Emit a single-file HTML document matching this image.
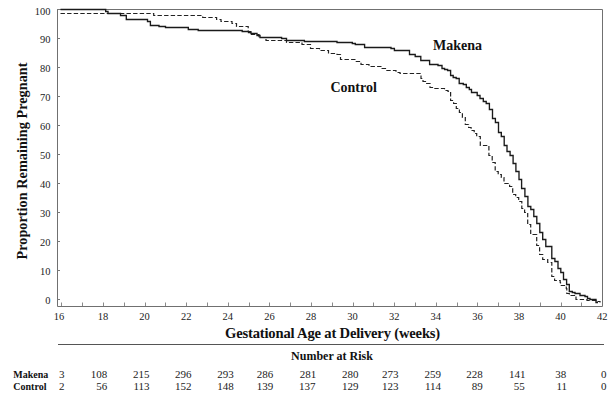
<!DOCTYPE html><html><head><meta charset="utf-8"><style>html,body{margin:0;padding:0;background:#fff;width:613px;height:395px;overflow:hidden}svg{display:block}text{font-family:"Liberation Serif",serif}</style></head><body>
<svg width="613" height="395" viewBox="0 0 613 395">
<path d="M57.5 9 V306.5 H602.5 V9.5 H57" fill="none" stroke="#707070" stroke-width="1"/>
<line x1="57" y1="299.5" x2="60" y2="299.5" stroke="#777" stroke-width="1"/>
<text x="50.5" y="304.1" transform="translate(0,304.1) scale(1,1.08) translate(0,-304.1)" font-size="10.5" text-anchor="end" fill="#222">0</text>
<line x1="57" y1="270.5" x2="60" y2="270.5" stroke="#777" stroke-width="1"/>
<text x="50.5" y="275.2" transform="translate(0,275.2) scale(1,1.08) translate(0,-275.2)" font-size="10.5" text-anchor="end" fill="#222">10</text>
<line x1="57" y1="241.5" x2="60" y2="241.5" stroke="#777" stroke-width="1"/>
<text x="50.5" y="246.2" transform="translate(0,246.2) scale(1,1.08) translate(0,-246.2)" font-size="10.5" text-anchor="end" fill="#222">20</text>
<line x1="57" y1="212.5" x2="60" y2="212.5" stroke="#777" stroke-width="1"/>
<text x="50.5" y="217.3" transform="translate(0,217.3) scale(1,1.08) translate(0,-217.3)" font-size="10.5" text-anchor="end" fill="#222">30</text>
<line x1="57" y1="183.5" x2="60" y2="183.5" stroke="#777" stroke-width="1"/>
<text x="50.5" y="188.3" transform="translate(0,188.3) scale(1,1.08) translate(0,-188.3)" font-size="10.5" text-anchor="end" fill="#222">40</text>
<line x1="57" y1="154.5" x2="60" y2="154.5" stroke="#777" stroke-width="1"/>
<text x="50.5" y="159.4" transform="translate(0,159.4) scale(1,1.08) translate(0,-159.4)" font-size="10.5" text-anchor="end" fill="#222">50</text>
<line x1="57" y1="125.5" x2="60" y2="125.5" stroke="#777" stroke-width="1"/>
<text x="50.5" y="130.4" transform="translate(0,130.4) scale(1,1.08) translate(0,-130.4)" font-size="10.5" text-anchor="end" fill="#222">60</text>
<line x1="57" y1="96.5" x2="60" y2="96.5" stroke="#777" stroke-width="1"/>
<text x="50.5" y="101.5" transform="translate(0,101.5) scale(1,1.08) translate(0,-101.5)" font-size="10.5" text-anchor="end" fill="#222">70</text>
<line x1="57" y1="67.5" x2="60" y2="67.5" stroke="#777" stroke-width="1"/>
<text x="50.5" y="72.5" transform="translate(0,72.5) scale(1,1.08) translate(0,-72.5)" font-size="10.5" text-anchor="end" fill="#222">80</text>
<line x1="57" y1="38.5" x2="60" y2="38.5" stroke="#777" stroke-width="1"/>
<text x="50.5" y="43.5" transform="translate(0,43.5) scale(1,1.08) translate(0,-43.5)" font-size="10.5" text-anchor="end" fill="#222">90</text>
<line x1="57" y1="9.5" x2="60" y2="9.5" stroke="#777" stroke-width="1"/>
<text x="50.5" y="14.6" transform="translate(0,14.6) scale(1,1.08) translate(0,-14.6)" font-size="10.5" text-anchor="end" fill="#222">100</text>
<line x1="61.5" y1="302.5" x2="61.5" y2="306" stroke="#8a8a8a" stroke-width="1"/>
<line x1="82.5" y1="302.5" x2="82.5" y2="306" stroke="#8a8a8a" stroke-width="1"/>
<line x1="103.5" y1="302.5" x2="103.5" y2="306" stroke="#8a8a8a" stroke-width="1"/>
<line x1="124.5" y1="302.5" x2="124.5" y2="306" stroke="#8a8a8a" stroke-width="1"/>
<line x1="145.5" y1="302.5" x2="145.5" y2="306" stroke="#8a8a8a" stroke-width="1"/>
<line x1="165.5" y1="302.5" x2="165.5" y2="306" stroke="#8a8a8a" stroke-width="1"/>
<line x1="186.5" y1="302.5" x2="186.5" y2="306" stroke="#8a8a8a" stroke-width="1"/>
<line x1="207.5" y1="302.5" x2="207.5" y2="306" stroke="#8a8a8a" stroke-width="1"/>
<line x1="228.5" y1="302.5" x2="228.5" y2="306" stroke="#8a8a8a" stroke-width="1"/>
<line x1="249.5" y1="302.5" x2="249.5" y2="306" stroke="#8a8a8a" stroke-width="1"/>
<line x1="269.5" y1="302.5" x2="269.5" y2="306" stroke="#8a8a8a" stroke-width="1"/>
<line x1="290.5" y1="302.5" x2="290.5" y2="306" stroke="#8a8a8a" stroke-width="1"/>
<line x1="311.5" y1="302.5" x2="311.5" y2="306" stroke="#8a8a8a" stroke-width="1"/>
<line x1="332.5" y1="302.5" x2="332.5" y2="306" stroke="#8a8a8a" stroke-width="1"/>
<line x1="353.5" y1="302.5" x2="353.5" y2="306" stroke="#8a8a8a" stroke-width="1"/>
<line x1="373.5" y1="302.5" x2="373.5" y2="306" stroke="#8a8a8a" stroke-width="1"/>
<line x1="394.5" y1="302.5" x2="394.5" y2="306" stroke="#8a8a8a" stroke-width="1"/>
<line x1="415.5" y1="302.5" x2="415.5" y2="306" stroke="#8a8a8a" stroke-width="1"/>
<line x1="436.5" y1="302.5" x2="436.5" y2="306" stroke="#8a8a8a" stroke-width="1"/>
<line x1="457.5" y1="302.5" x2="457.5" y2="306" stroke="#8a8a8a" stroke-width="1"/>
<line x1="477.5" y1="302.5" x2="477.5" y2="306" stroke="#8a8a8a" stroke-width="1"/>
<line x1="498.5" y1="302.5" x2="498.5" y2="306" stroke="#8a8a8a" stroke-width="1"/>
<line x1="519.5" y1="302.5" x2="519.5" y2="306" stroke="#8a8a8a" stroke-width="1"/>
<line x1="540.5" y1="302.5" x2="540.5" y2="306" stroke="#8a8a8a" stroke-width="1"/>
<line x1="561.5" y1="302.5" x2="561.5" y2="306" stroke="#8a8a8a" stroke-width="1"/>
<line x1="581.5" y1="302.5" x2="581.5" y2="306" stroke="#8a8a8a" stroke-width="1"/>
<text x="59.0" y="320.5" transform="translate(0,320.5) scale(1,1.08) translate(0,-320.5)" font-size="10.5" text-anchor="middle" fill="#222">16</text>
<text x="103.0" y="320.5" transform="translate(0,320.5) scale(1,1.08) translate(0,-320.5)" font-size="10.5" text-anchor="middle" fill="#222">18</text>
<text x="144.6" y="320.5" transform="translate(0,320.5) scale(1,1.08) translate(0,-320.5)" font-size="10.5" text-anchor="middle" fill="#222">20</text>
<text x="186.2" y="320.5" transform="translate(0,320.5) scale(1,1.08) translate(0,-320.5)" font-size="10.5" text-anchor="middle" fill="#222">22</text>
<text x="227.8" y="320.5" transform="translate(0,320.5) scale(1,1.08) translate(0,-320.5)" font-size="10.5" text-anchor="middle" fill="#222">24</text>
<text x="269.4" y="320.5" transform="translate(0,320.5) scale(1,1.08) translate(0,-320.5)" font-size="10.5" text-anchor="middle" fill="#222">26</text>
<text x="311.0" y="320.5" transform="translate(0,320.5) scale(1,1.08) translate(0,-320.5)" font-size="10.5" text-anchor="middle" fill="#222">28</text>
<text x="352.6" y="320.5" transform="translate(0,320.5) scale(1,1.08) translate(0,-320.5)" font-size="10.5" text-anchor="middle" fill="#222">30</text>
<text x="394.2" y="320.5" transform="translate(0,320.5) scale(1,1.08) translate(0,-320.5)" font-size="10.5" text-anchor="middle" fill="#222">32</text>
<text x="435.8" y="320.5" transform="translate(0,320.5) scale(1,1.08) translate(0,-320.5)" font-size="10.5" text-anchor="middle" fill="#222">34</text>
<text x="477.4" y="320.5" transform="translate(0,320.5) scale(1,1.08) translate(0,-320.5)" font-size="10.5" text-anchor="middle" fill="#222">36</text>
<text x="519.0" y="320.5" transform="translate(0,320.5) scale(1,1.08) translate(0,-320.5)" font-size="10.5" text-anchor="middle" fill="#222">38</text>
<text x="560.6" y="320.5" transform="translate(0,320.5) scale(1,1.08) translate(0,-320.5)" font-size="10.5" text-anchor="middle" fill="#222">40</text>
<text x="602.2" y="320.5" transform="translate(0,320.5) scale(1,1.08) translate(0,-320.5)" font-size="10.5" text-anchor="middle" fill="#222">42</text>
<path d="M 60.5 13.5 H 153.7 V 15.5 H 202.7 V 17.5 H 216.6 V 19.5 H 221 V 21.5 H 232 V 23.5 H 236.5 V 26.5 H 248.2 V 31.5 H 251.5 V 34.5 H 259 V 37.5 H 266 V 40.5 H 286.5 V 42.5 H 302 V 44.5 H 310.5 V 48.5 H 319.5 V 50.5 H 328.5 V 53.5 H 337 V 54.5 H 340.5 V 59.5 H 355.5 V 61.5 H 361 V 64.5 H 369 V 66.5 H 382 V 68.5 H 385.5 V 70.5 H 396 V 72.5 H 400 V 73.5 H 421 V 78.5 H 423 V 81.5 H 425.5 V 83.5 H 430 V 87.5 H 434 V 88.5 H 444.5 V 90.5 H 448 V 91.5 H 450.6 V 100.5 H 453.6 V 103.5 H 456.3 V 108.5 H 459.4 V 112.5 H 462.4 V 117.5 H 465.3 V 124.5 H 468.6 V 127.5 H 471.1 V 130.5 H 474.2 V 133.5 H 476.7 V 136.5 H 480.3 V 145.5 H 488.9 V 155.5 H 492.2 V 162.5 H 495.2 V 171.5 H 498.2 V 174.5 H 501.3 V 177.5 H 504 V 183.5 H 509.6 V 186.5 H 512.7 V 194.5 H 515.7 V 197.5 H 518.7 V 201.5 H 521.8 V 208.5 H 524.6 V 212.5 H 527.7 V 224.5 H 530.7 V 234.5 H 536.7 V 245.5 H 539.6 V 254.5 H 542.7 V 259.5 H 547.7 V 262.5 H 551.8 V 276.5 H 554.6 V 280.5 H 560.2 V 282.5 H 560.5 V 285.5 H 566.3 V 288.5 H 566.8 V 293.5 H 569.3 V 295.5 H 574.5 V 296.5 H 576 V 299.5 H 587 V 300.5 H 596 V 301.5 H 600 V 302.5" fill="none" stroke="#222" stroke-width="1.2" stroke-dasharray="4.4 2.2"/>
<path d="M 60.5 9.5 H 105.7 V 11.5 H 108 V 13.5 H 120.5 V 15.5 H 126.3 V 19.5 H 147.5 V 21.5 H 150.4 V 25.5 H 159 V 26.5 H 165.5 V 27.5 H 188.3 V 29.5 H 198.2 V 30.5 H 242.2 V 31.5 H 248.5 V 32.5 H 251 V 33.5 H 257 V 35.5 H 260 V 37.5 H 268 V 37.5 H 281.6 V 38.5 H 286.5 V 40.5 H 304.4 V 41.5 H 337 V 42.5 H 352.3 V 43.5 H 355.3 V 44.5 H 364.6 V 47.5 H 391 V 48.5 H 394.4 V 50.5 H 409.5 V 54.5 H 415.2 V 56.5 H 420.8 V 60.5 H 429.6 V 64.5 H 438 V 65.5 H 442 V 68.5 H 444.6 V 69.5 H 447.6 V 70.5 H 450.6 V 75.5 H 453.2 V 77.5 H 456.2 V 78.5 H 459.2 V 83.5 H 463.3 V 84.5 H 466.3 V 87.5 H 469.3 V 89.5 H 471.5 V 92.5 H 477.2 V 95.5 H 480 V 98.5 H 483.3 V 101.5 H 486.2 V 103.5 H 489.4 V 109.5 H 492.5 V 118.5 H 495.4 V 122.5 H 498.5 V 132.5 H 501.3 V 136.5 H 504.2 V 145.5 H 507 V 151.5 H 510.1 V 155.5 H 513.1 V 163.5 H 515.9 V 171.5 H 519 V 179.5 H 521.6 V 188.5 H 524.9 V 196.5 H 527.9 V 206.5 H 530.8 V 209.5 H 533.8 V 216.5 H 536.8 V 223.5 H 539.8 V 232.5 H 542.7 V 239.5 H 545.8 V 246.5 H 551.8 V 258.5 H 554.9 V 261.5 H 558 V 268.5 H 560.8 V 272.5 H 563.5 V 279.5 H 566.6 V 284.5 H 569.3 V 291.5 H 572.3 V 292.5 H 575 V 293.5 H 580 V 295.5 H 585 V 296.5 H 587.5 V 298.5 H 590 V 299.5 H 596 V 302.5 H 598" fill="none" stroke="#1a1a1a" stroke-width="1.35"/>
<text x="433" y="50.4" font-size="14" font-weight="bold" fill="#111">Makena</text>
<text x="330.4" y="91.5" font-size="14" font-weight="bold" fill="#111">Control</text>
<text transform="translate(27,259.5) rotate(-90)" x="0" y="0" font-size="14.2" font-weight="bold" textLength="197" lengthAdjust="spacing" fill="#111">Proportion Remaining Pregnant</text>
<text x="225" y="338" font-size="14.6" font-weight="bold" textLength="215.2" lengthAdjust="spacing" fill="#111">Gestational Age at Delivery (weeks)</text>
<line x1="58" y1="344.5" x2="604" y2="344.5" stroke="#555" stroke-width="1.2"/>
<text x="332" y="360" font-size="12" font-weight="bold" text-anchor="middle" fill="#111">Number at Risk</text>
<text x="13.3" y="378" font-size="10" font-weight="bold" fill="#111">Makena</text>
<text x="13.3" y="390" font-size="10" font-weight="bold" fill="#111">Control</text>
<text x="64.6" y="378" font-size="11" text-anchor="end" fill="#222">3</text>
<text x="64.6" y="390" font-size="11" text-anchor="end" fill="#222">2</text>
<text x="107.3" y="378" font-size="11" text-anchor="end" fill="#222">108</text>
<text x="107.3" y="390" font-size="11" text-anchor="end" fill="#222">56</text>
<text x="149.6" y="378" font-size="11" text-anchor="end" fill="#222">215</text>
<text x="149.6" y="390" font-size="11" text-anchor="end" fill="#222">113</text>
<text x="191.4" y="378" font-size="11" text-anchor="end" fill="#222">296</text>
<text x="191.4" y="390" font-size="11" text-anchor="end" fill="#222">152</text>
<text x="233.8" y="378" font-size="11" text-anchor="end" fill="#222">293</text>
<text x="233.8" y="390" font-size="11" text-anchor="end" fill="#222">148</text>
<text x="273.2" y="378" font-size="11" text-anchor="end" fill="#222">286</text>
<text x="273.2" y="390" font-size="11" text-anchor="end" fill="#222">139</text>
<text x="316.3" y="378" font-size="11" text-anchor="end" fill="#222">281</text>
<text x="315.5" y="390" font-size="11" text-anchor="end" fill="#222">137</text>
<text x="358.5" y="378" font-size="11" text-anchor="end" fill="#222">280</text>
<text x="358.5" y="390" font-size="11" text-anchor="end" fill="#222">129</text>
<text x="398.4" y="378" font-size="11" text-anchor="end" fill="#222">273</text>
<text x="398.4" y="390" font-size="11" text-anchor="end" fill="#222">123</text>
<text x="441.0" y="378" font-size="11" text-anchor="end" fill="#222">259</text>
<text x="441.0" y="390" font-size="11" text-anchor="end" fill="#222">114</text>
<text x="482.7" y="378" font-size="11" text-anchor="end" fill="#222">228</text>
<text x="482.7" y="390" font-size="11" text-anchor="end" fill="#222">89</text>
<text x="525.5" y="378" font-size="11" text-anchor="end" fill="#222">141</text>
<text x="524.7" y="390" font-size="11" text-anchor="end" fill="#222">55</text>
<text x="566.2" y="378" font-size="11" text-anchor="end" fill="#222">38</text>
<text x="567.0" y="390" font-size="11" text-anchor="end" fill="#222">11</text>
<text x="606.5" y="378" font-size="11" text-anchor="end" fill="#222">0</text>
<text x="606.5" y="390" font-size="11" text-anchor="end" fill="#222">0</text>
</svg></body></html>
